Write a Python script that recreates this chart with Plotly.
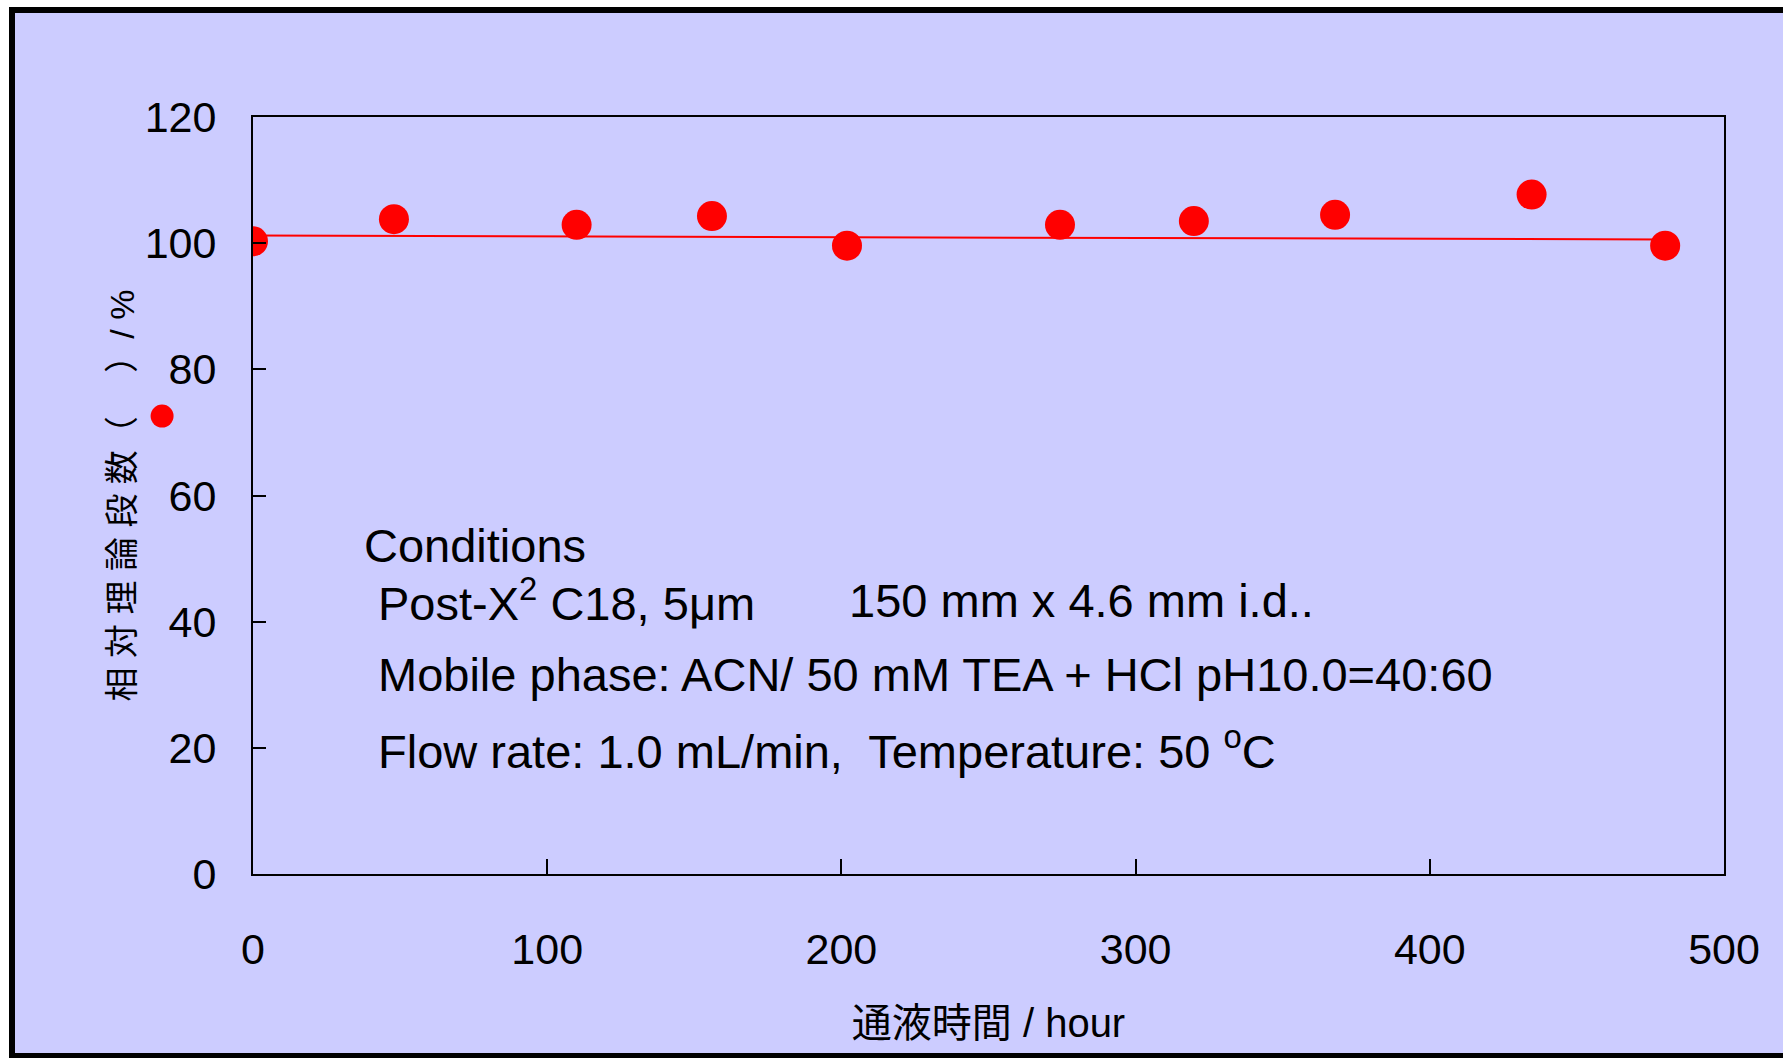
import plotly.graph_objects as go

# Data
hours = [0, 47.9, 110.0, 156.0, 201.9, 274.3, 319.8, 367.8, 434.6, 480.0]
rel_plates = [100.3, 103.8, 102.9, 104.3, 99.6, 102.9, 103.5, 104.5, 107.7, 99.6]

# Linear trend line (end points)
trend_x = [0, 480]
trend_y = [101.2, 100.6]

# Stray legend-style marker left of the plot
legend_x = [-30.9]
legend_y = [72.6]

x_ticks = [0, 100, 200, 300, 400, 500]
y_ticks = [0, 20, 40, 60, 80, 100, 120]
x_range = [0, 500]
y_range = [0, 120]

FONT = "Liberation Sans, Arial, Noto Sans CJK JP, sans-serif"
BG = "#CCCCFF"
RED = "#FF0000"

W, H = 1783, 1058
L, R, T, B = 253, 1724, 117, 874   # plot box in pixels
PL = 120                            # paper (margin) left edge
pw, ph = R - PL, B - T
d0 = (L - PL) / pw                  # domain start of main x axis

# helper axis x2 spans the whole paper width with the same data scale
scale = (x_range[1] - x_range[0]) / (R - L)
x2_range = [x_range[0] - (L - PL) * scale, x_range[1]]

def px(x):
    return (x - PL) / pw

def py(y):
    return (B - y) / ph

fig = go.Figure()
fig.add_trace(go.Scatter(x=trend_x, y=trend_y, mode="lines",
                         line=dict(color=RED, width=2),
                         showlegend=False, hoverinfo="skip"))
fig.add_trace(go.Scatter(x=hours, y=rel_plates, mode="markers",
                         marker=dict(color=RED, size=30, line=dict(width=0)),
                         showlegend=False))
fig.add_trace(go.Scatter(x=legend_x, y=legend_y, mode="markers", xaxis="x2", yaxis="y",
                         marker=dict(color=RED, size=23, line=dict(width=0)),
                         cliponaxis=False, showlegend=False, hoverinfo="skip"))

fig.update_layout(
    width=W, height=H,
    margin=dict(l=PL, r=W - R, t=T, b=H - B, pad=0),
    paper_bgcolor="white",
    plot_bgcolor="rgba(0,0,0,0)",
    font=dict(family=FONT, color="black", size=43),
    showlegend=False,
    shapes=[dict(type="rect", xref="paper", yref="paper", layer="below",
                 x0=px(12), x1=px(1800), y0=py(1056), y1=py(10),
                 fillcolor=BG, line=dict(color="black", width=6))],
    xaxis=dict(
        domain=[d0, 1], range=x_range, tickvals=x_ticks, ticks="inside", ticklen=15,
        tickwidth=2, tickcolor="black", showline=True, linecolor="black",
        linewidth=2, mirror=True, showgrid=False, zeroline=False,
        tickfont=dict(size=43, family=FONT), ticklabelstandoff=36,
        title=dict(text="通液時間 / hour", font=dict(size=40, family=FONT), standoff=37),
        automargin=False),
    yaxis=dict(
        range=y_range, tickvals=y_ticks, ticks="inside", ticklen=13, anchor="x",
        tickwidth=2, tickcolor="black", showline=True, linecolor="black",
        linewidth=2, mirror=True, showgrid=False, zeroline=False,
        tickfont=dict(size=43, family=FONT), ticklabelstandoff=26,
        title=dict(text="相 対 理 論 段 数（　 ）/ %", font=dict(size=34, family=FONT), standoff=0),
        automargin=False),
    xaxis2=dict(domain=[0, 1], range=x2_range, anchor="y", visible=False,
                showgrid=False, zeroline=False, fixedrange=True),
)

ann_font = dict(size=47, family=FONT, color="black")
annotations = [
    ("Conditions", 362, 545),
    ("Post-X<sup>2</sup> C18, 5μm", 376, 600),
    ("150 mm x 4.6 mm i.d..", 847, 600),
    ("Mobile phase: ACN/ 50 mM TEA + HCl pH10.0=40:60", 376, 674),
    ("Flow rate: 1.0 mL/min,\u00a0 Temperature: 50 <sup>o</sup>C", 376, 748),
]
for text, x, y in annotations:
    fig.add_annotation(text=text, xref="paper", yref="paper", x=px(x), y=py(y),
                       xanchor="left", yanchor="middle", showarrow=False,
                       font=ann_font)

fig.write_html("out.html", config={"displayModeBar": False},
               post_script="document.body.style.margin='0';document.body.style.overflow='hidden';")
